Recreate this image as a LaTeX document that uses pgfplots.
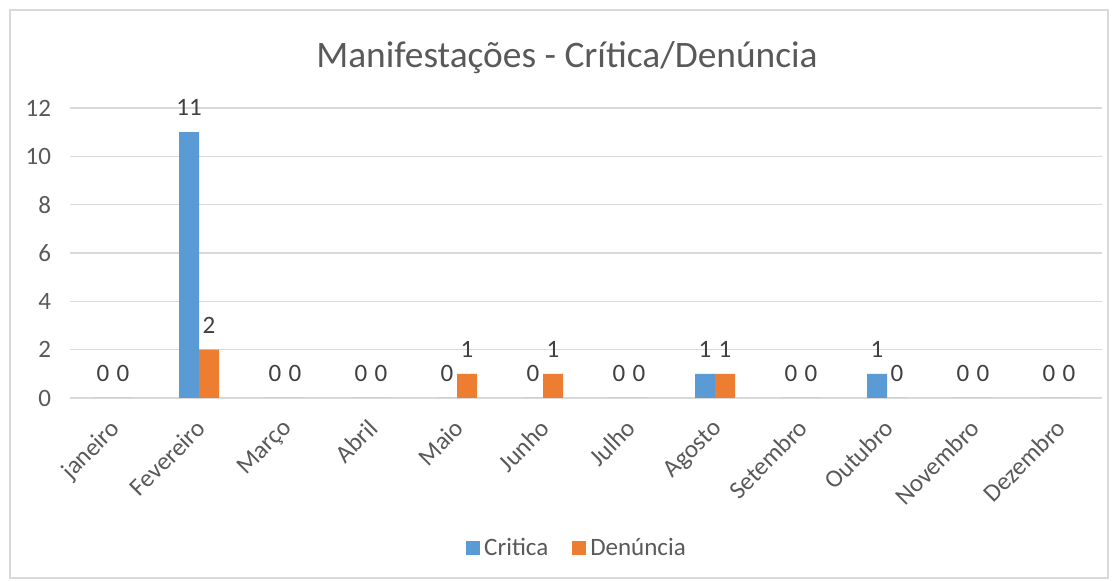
\documentclass[border=0pt]{standalone}
\usepackage{pgfplots}
\pgfplotsset{compat=1.18}
\usepackage{fontspec}
\setmainfont{Carlito}
\definecolor{cblue}{HTML}{5B9BD5}
\definecolor{corange}{HTML}{ED7D31}
\definecolor{gridc}{HTML}{D9D9D9}
\definecolor{txt}{HTML}{595959}
\definecolor{lbl}{HTML}{404040}
\begin{document}
\begin{tikzpicture}
\path[use as bounding box] (-35pt,-91.5pt) rectangle (524pt,199pt);
\draw[gridc, line width=0.6pt] (-30pt,-90pt) rectangle (519pt,194pt);
\begin{axis}[
  at={(0,0)}, anchor=south west,
  scale only axis,
  width=516pt, height=145pt,
  ybar=0pt, bar width=10pt,
  xmin=-0.5, xmax=11.5,
  ymin=0, ymax=12,
  ytick={0,2,...,12},
  xtick=data,
  xticklabels={janeiro,Fevereiro,Março,Abril,Maio,Junho,Julho,Agosto,Setembro,Outubro,Novembro,Dezembro},
  xticklabel style={xshift=-2pt, yshift=-8.3pt, rotate=45, anchor=north east, font=\fontsize{12.5}{15}\selectfont, text=txt, inner sep=1pt},
  yticklabel style={font=\fontsize{12.5}{15}\selectfont, text=txt, xshift=-6pt},
  /pgf/number format/assume math mode=true,
  axis line style={draw=none},
  major tick length=0pt,
  ymajorgrids, grid style={gridc, line width=0.8pt},
  nodes near coords,
  every node near coord/.append style={font=\fontsize{12.5}{15}\selectfont, text=lbl, inner sep=2pt, yshift=6pt},
  legend style={at={(254pt,-75pt)}, anchor=center, draw=none, font=\fontsize{12.5}{15}\selectfont, text=txt, legend columns=2, /tikz/every even column/.append style={column sep=10pt}},
  legend image code/.code={\fill[#1] (0pt,-3.5pt) rectangle (7pt,3.5pt);},
  legend cell align=left,
]
\addplot[fill=cblue, draw=none] coordinates {(0,0) (1,11) (2,0) (3,0) (4,0) (5,0) (6,0) (7,1) (8,0) (9,1) (10,0) (11,0)};
\addplot[fill=corange, draw=none] coordinates {(0,0) (1,2) (2,0) (3,0) (4,1) (5,1) (6,0) (7,1) (8,0) (9,0) (10,0) (11,0)};
\legend{Critica, Denúncia}
\end{axis}
\node[font=\fontsize{18.7}{22}\selectfont, text=txt] at (248.5pt,170pt) {Manifestações - Crítica/Denúncia};
\end{tikzpicture}
\end{document}
